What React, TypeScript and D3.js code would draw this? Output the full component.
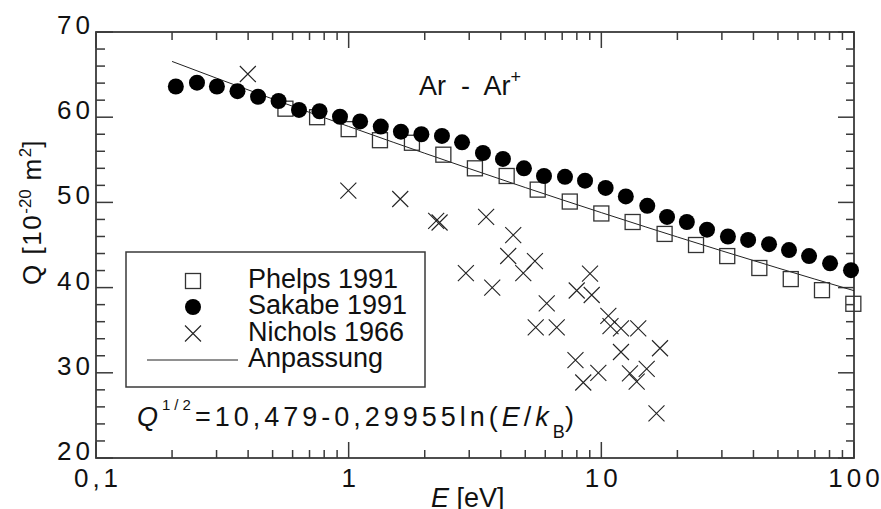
import React from 'react';
import * as d3 from 'd3';

// ---- data ----
const phelpsE = [0.562, 0.75, 1.0, 1.33, 1.78, 2.37, 3.16, 4.22, 5.6, 7.5, 10, 13.3, 17.8, 23.7, 31.5, 42.2, 56.2, 74.7, 99.4];
const phelpsQ = [61.0, 60.0, 58.6, 57.3, 57.0, 55.6, 54.0, 53.1, 51.5, 50.1, 48.7, 47.7, 46.3, 45.0, 43.7, 42.3, 41.0, 39.7, 38.1];

const sakabeE = [0.207, 0.251, 0.301, 0.363, 0.438, 0.528, 0.636, 0.767, 0.924, 1.11, 1.34, 1.61, 1.94, 2.34, 2.81, 3.4, 4.08, 4.94, 5.93, 7.18, 8.62, 10.4, 12.5, 15.2, 18.2, 21.8, 26.2, 31.7, 38.1, 46.1, 55.3, 66.4, 80.4, 97.3];
const sakabeQ = [63.6, 64.05, 63.6, 63.05, 62.4, 61.9, 60.85, 60.7, 60.05, 59.5, 58.9, 58.3, 58.0, 57.8, 57.05, 55.8, 55.1, 54.0, 53.1, 53.0, 52.55, 51.7, 50.7, 49.6, 48.3, 47.7, 46.8, 46.0, 45.6, 45.1, 44.4, 43.7, 42.85, 42.05];

const nicholsE = [0.399, 0.997, 1.6, 2.22, 2.29, 3.5, 4.48, 4.28, 5.46, 4.91, 2.91, 3.7, 6.08, 5.5, 6.66, 7.99, 9.02, 9.16, 10.66, 10.87, 11.96, 14.0, 17.07, 11.96, 7.9, 9.73, 8.48, 12.98, 15.12, 13.8, 16.53];
const nicholsQ = [65.07, 51.37, 50.4, 47.82, 47.64, 48.29, 46.17, 43.71, 43.12, 41.71, 41.71, 39.99, 38.16, 35.32, 35.32, 39.66, 41.65, 39.13, 36.67, 35.49, 35.22, 35.22, 32.88, 32.44, 31.5, 29.98, 28.86, 29.94, 30.47, 28.96, 25.25];

// fit: Q^(1/2) = 10,479 - 0,29955 ln(E/kB)
const fitA = 10.479;
const fitB = 0.29955;
const kB = 8.617e-5;
const fitE = [0.2, 0.3, 0.5, 0.7, 1, 1.5, 2, 3, 5, 7, 10, 15, 20, 30, 50, 70, 100];

const xMajor = [0.1, 1, 10, 100];
const xTickLabels = ['0,1', '1', '10', '100'];
const yMajor = [20, 30, 40, 50, 60, 70];

const legendLabels = ['Phelps 1991', 'Sakabe 1991', 'Nichols 1966', 'Anpassung'];

const FONT = '"Liberation Sans", Arial, Helvetica, sans-serif';

export default function App() {
  const W = 881, H = 509;
  const L = 96, R = 854, T = 32, B = 458;
  const x = d3.scaleLog().domain([0.1, 100]).range([L, R]);
  const y = d3.scaleLinear().domain([20, 70]).range([B, T]);

  const xMinor: number[] = [];
  [0.1, 1, 10].forEach((d) => {
    for (let k = 2; k <= 9; k++) xMinor.push(d * k);
  });
  const yMinor: number[] = [];
  for (let v = 22; v < 70; v += 2) if (v % 10 !== 0) yMinor.push(v);

  const fitLine = d3
    .line<number>()
    .x((e) => x(e))
    .y((e) => {
      const s = fitA - fitB * Math.log(e / kB);
      return y(s * s);
    })
    .curve(d3.curveMonotoneX)(fitE) as string;

  const axisColor = '#3a3a3a';
  const sq = 15;
  const cr = 8;
  const xs = 8;

  const crossPath = (cx: number, cy: number, h: number) =>
    `M${cx - h},${cy - h}L${cx + h},${cy + h}M${cx - h},${cy + h}L${cx + h},${cy - h}`;

  // legend
  const legX = 126, legY = 252, legW = 299, legH = 135;
  const legMarkX = 193;
  const legRows = [281, 307, 333.5, 360];
  const legTextX = 248;

  return (
    <svg
      width={W}
      height={H}
      viewBox={`0 0 ${W} ${H}`}
      style={{ position: 'absolute', left: 0, top: 0, background: '#fff' }}
      fontFamily={FONT}
    >
      <rect x={0} y={0} width={W} height={H} fill="#fff" />

      {/* ticks */}
      <g stroke={axisColor} strokeWidth={1.5}>
        {xMajor.map((v) => (
          <g key={'xM' + v}>
            <line x1={x(v)} x2={x(v)} y1={B} y2={B - 16} />
            <line x1={x(v)} x2={x(v)} y1={T} y2={T + 16} />
          </g>
        ))}
        {xMinor.map((v) => (
          <g key={'xm' + v}>
            <line x1={x(v)} x2={x(v)} y1={B} y2={B - 8} />
            <line x1={x(v)} x2={x(v)} y1={T} y2={T + 8} />
          </g>
        ))}
        {yMajor.map((v) => (
          <g key={'yM' + v}>
            <line x1={L} x2={L + 17} y1={y(v)} y2={y(v)} />
            <line x1={R} x2={R - 16} y1={y(v)} y2={y(v)} />
          </g>
        ))}
        {yMinor.map((v) => (
          <g key={'ym' + v}>
            <line x1={L} x2={L + 9} y1={y(v)} y2={y(v)} />
            <line x1={R} x2={R - 8} y1={y(v)} y2={y(v)} />
          </g>
        ))}
      </g>
      <rect x={L} y={T} width={R - L} height={B - T} fill="none" stroke={axisColor} strokeWidth={1.8} />

      {/* tick labels */}
      <g fontSize={26} fill="#111" letterSpacing={4}>
        {yMajor.map((v) => (
          <text key={'yl' + v} x={90 + 4} y={y(v) + 2} textAnchor="end">
            {String(v)}
          </text>
        ))}
        {xMajor.map((v, i) => (
          <text key={'xl' + v} x={x(v) + 2} y={487} textAnchor="middle">
            {xTickLabels[i]}
          </text>
        ))}
      </g>

      {/* axis titles */}
      <text x={431} y={507} fontSize={27} fill="#111">
        <tspan fontStyle="italic">E</tspan> [eV]
      </text>
      <text transform="translate(41,212) rotate(-90)" textAnchor="middle" fontSize={26} fill="#111" letterSpacing={1.5}>
        Q [10
        <tspan dy={-10} fontSize={17} letterSpacing={0}>-20</tspan>
        <tspan dy={10}> m</tspan>
        <tspan dy={-10} fontSize={17} letterSpacing={0}>2</tspan>
        <tspan dy={10}>]</tspan>
      </text>

      {/* title */}
      <text x={419} y={95} fontSize={27} fill="#111" style={{ whiteSpace: 'pre' }}>
        {'Ar  -  Ar'}
        <tspan dy={-12} fontSize={18}>+</tspan>
      </text>

      {/* fit line */}
      <path d={fitLine} fill="none" stroke="#222" strokeWidth={1} />

      {/* Phelps squares */}
      <g fill="none" stroke="#333" strokeWidth={1.3}>
        {phelpsE.map((e, i) => (
          <rect key={'p' + i} x={x(e) - sq / 2} y={y(phelpsQ[i]) - sq / 2} width={sq} height={sq} />
        ))}
      </g>

      {/* Nichols crosses */}
      <g fill="none" stroke="#222" strokeWidth={1.1}>
        {nicholsE.map((e, i) => (
          <path key={'n' + i} d={crossPath(x(e), y(nicholsQ[i]), xs)} />
        ))}
      </g>

      {/* Sakabe circles */}
      <g fill="#000">
        {sakabeE.map((e, i) => (
          <circle key={'s' + i} cx={x(e)} cy={y(sakabeQ[i])} r={cr} />
        ))}
      </g>

      {/* legend */}
      <rect x={legX} y={legY} width={legW} height={legH} fill="#fff" stroke={axisColor} strokeWidth={1.5} />
      <rect x={legMarkX - sq / 2} y={legRows[0] - sq / 2} width={sq} height={sq} fill="none" stroke="#333" strokeWidth={1.3} />
      <circle cx={legMarkX} cy={legRows[1]} r={cr} fill="#000" />
      <path d={crossPath(legMarkX, legRows[2], xs)} stroke="#222" strokeWidth={1.1} fill="none" />
      <line x1={147} x2={238} y1={legRows[3]} y2={legRows[3]} stroke="#222" strokeWidth={1} />
      <g fontSize={27} fill="#111">
        {legendLabels.map((t, i) => (
          <text key={'lg' + i} x={legTextX} y={legRows[i] + 7}>
            {t}
          </text>
        ))}
      </g>

      {/* formula */}
      <text x={137} y={426} fontSize={27} fill="#111" letterSpacing={4}>
        <tspan fontStyle="italic">Q</tspan>
        <tspan dy={-16} fontSize={15}>1/2</tspan>
        <tspan dy={16}>=10,479-0,29955ln(</tspan>
        <tspan fontStyle="italic">E</tspan>
        <tspan>/</tspan>
        <tspan fontStyle="italic">k</tspan>
        <tspan dy={12} fontSize={18} letterSpacing={0}>B</tspan>
        <tspan dy={-12}>)</tspan>
      </text>
    </svg>
  );
}
